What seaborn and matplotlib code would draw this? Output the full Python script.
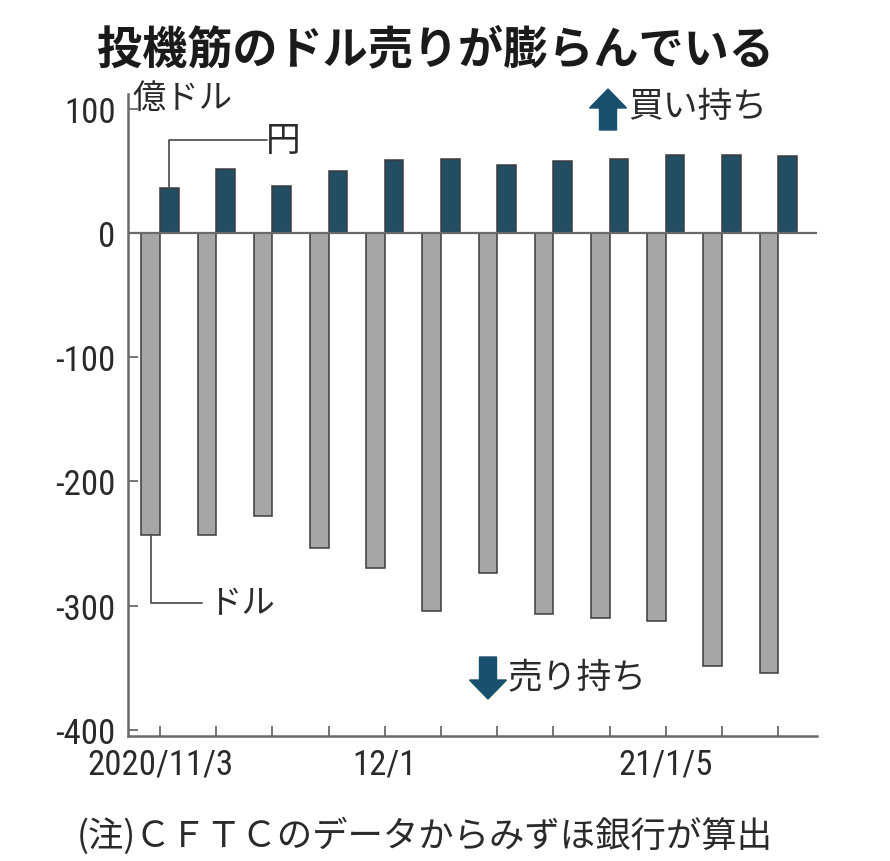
import matplotlib
matplotlib.use("Agg")
import matplotlib.pyplot as plt
from matplotlib import font_manager
from matplotlib.patches import FancyArrow
import seaborn as sns
import pandas as pd

# ---- data ----
weeks = ["2020/11/3", "11/10", "11/17", "11/24", "12/1", "12/8", "12/15",
         "12/22", "12/29", "21/1/5", "1/12", "1/19"]
shown_labels = {"2020/11/3": "2020/11/3", "12/1": "12/1", "21/1/5": "21/1/5"}
dollar = [-243, -243, -228, -254, -270, -304, -274, -307, -310, -312, -349, -354]
yen = [36, 52, 38, 50, 59, 60, 55, 58, 60, 63, 63, 62]
yticks = [100, 0, -100, -200, -300, -400]

df = pd.DataFrame({
    "week": weeks * 2,
    "value": dollar + yen,
    "series": ["ドル"] * len(weeks) + ["円"] * len(weeks),
})

sns.set_style("white")
plt.rcParams["font.family"] = ["Noto Sans CJK JP", "DejaVu Sans"]

avail = {f.name for f in font_manager.fontManager.ttflist}
num_font = "Liberation Sans"
for cand in ["Roboto Condensed", "Archivo Narrow", "PT Sans Narrow",
             "Fira Sans Condensed", "Liberation Sans Narrow", "DejaVu Sans Condensed"]:
    if cand in avail:
        num_font = cand
        break

W, H = 890, 862
fig = plt.figure(figsize=(W / 100, H / 100), dpi=100)
L, R, T, B = 128, 817, 95, 737
ax = fig.add_axes([L / W, 1 - B / H, (R - L) / W, (B - T) / H])

YEN_C = "#18506e"
DOL_C = "#a6a6a6"
EDGE = "#3c3c3c"
AX_C = "#6a6a6a"
TXT = "#2a2a2a"

sns.barplot(data=df, x="week", y="value", hue="series", order=weeks,
            hue_order=["ドル", "円"], palette={"ドル": DOL_C, "円": YEN_C},
            width=0.66, dodge=True, edgecolor=EDGE, linewidth=1.1,
            errorbar=None, legend=False, ax=ax)

ax.set_xlim(-0.57, 11.69)
ax.set_ylim(-405, 112)
ax.axhline(0, color=AX_C, lw=1.6, zorder=3)

for s in ["top", "right"]:
    ax.spines[s].set_visible(False)
for s in ["left", "bottom"]:
    ax.spines[s].set_color(AX_C)
    ax.spines[s].set_linewidth(1.8)

ax.set_yticks(yticks)
ax.set_yticklabels([str(v) for v in yticks], fontfamily=num_font, fontsize=25, color=TXT)
ax.set_xticks(range(len(weeks)))
ax.set_xticklabels([shown_labels.get(w, "") for w in weeks], fontfamily=num_font,
                   fontsize=25, color=TXT)
ax.tick_params(axis="both", direction="in", length=7, width=1.3, color=AX_C,
               bottom=True, left=True)
ax.tick_params(axis="y", pad=9)
ax.tick_params(axis="x", pad=8)
ax.set_xlabel("")
ax.set_ylabel("")

# leader lines
ax.plot([0.165, 0.165, 1.9], [yen[0], 75, 75], color="#555555", lw=1.3, zorder=4,
        clip_on=False)
ax.plot([-0.165, -0.165, 0.74], [dollar[0], -298, -298], color="#555555", lw=1.3,
        zorder=4, clip_on=False)

def fx(px):
    return px / W

def fy(py):
    return 1 - py / H

fig.text(fx(435), fy(50), "投機筋のドル売りが膨らんでいる", ha="center", va="center",
         fontsize=32.5, fontweight="bold", color="#1a1a1a")
fig.text(fx(132), fy(98), "億ドル", ha="left", va="center", fontsize=24, color=TXT)
fig.text(fx(266), fy(142), "円", ha="left", va="center", fontsize=25, color=TXT)
fig.text(fx(208), fy(604), "ドル", ha="left", va="center", fontsize=24, color=TXT)
fig.text(fx(628), fy(108), "買い持ち", ha="left", va="center", fontsize=25, color=TXT)
fig.text(fx(507), fy(679), "売り持ち", ha="left", va="center", fontsize=25, color=TXT)
fig.text(fx(425), fy(836), "(注)ＣＦＴＣのデータからみずほ銀行が算出", ha="center",
         va="center", fontsize=25.5, color=TXT)

# arrows (inches coordinates)
up = FancyArrow(6.08, (H - 131) / 100, 0, 0.41, width=0.17, head_width=0.37,
                head_length=0.19, length_includes_head=True, color=YEN_C,
                transform=fig.dpi_scale_trans)
down = FancyArrow(4.88, (H - 658) / 100, 0, -0.42, width=0.17, head_width=0.37,
                  head_length=0.19, length_includes_head=True, color=YEN_C,
                  transform=fig.dpi_scale_trans)
fig.add_artist(up)
fig.add_artist(down)

fig.savefig("out.png", dpi=100, facecolor="white")
